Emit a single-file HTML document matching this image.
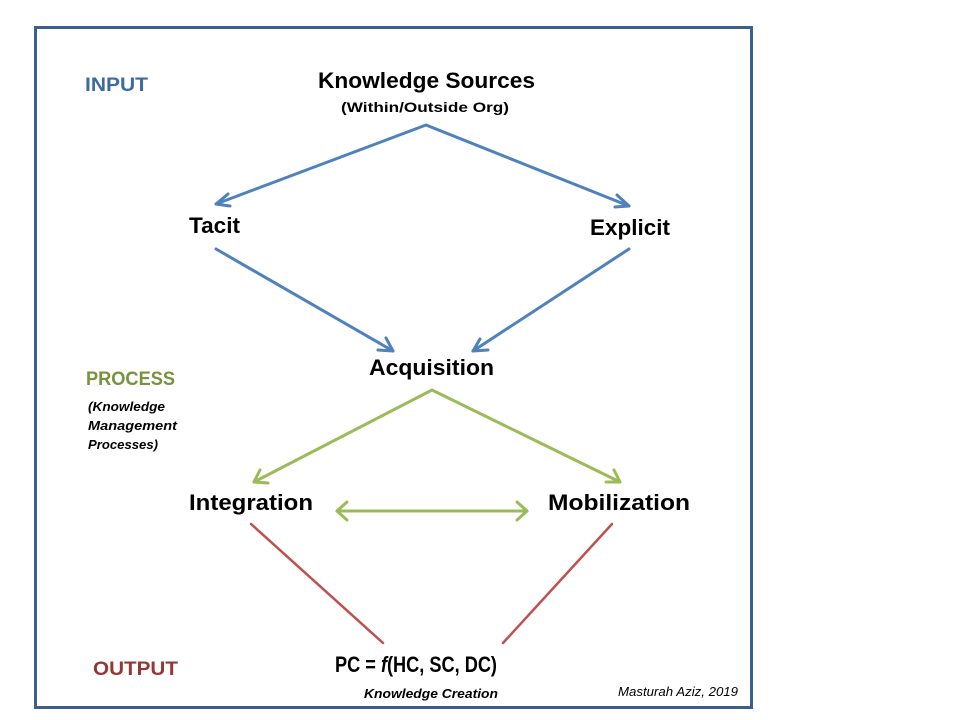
<!DOCTYPE html>
<html><head><meta charset="utf-8"><style>
html,body{margin:0;padding:0;background:#fff;width:960px;height:720px;overflow:hidden}
text{font-family:"Liberation Sans",sans-serif;font-weight:bold}
</style></head><body>
<svg width="960" height="720" xmlns="http://www.w3.org/2000/svg">
<defs>
<marker id="ab" viewBox="0 0 10 10" refX="9" refY="5" markerWidth="5" markerHeight="5" orient="auto-start-reverse" markerUnits="userSpaceOnUse"><path d="M1,1 L9,5 L1,9" fill="none" stroke="#4f81bd" stroke-width="0" /></marker>
</defs>
<rect x="35.5" y="27.5" width="716" height="680" fill="none" stroke="#3d5f8f" stroke-width="3"/>
<g stroke="#4f81bd" stroke-width="3" fill="none" stroke-linecap="round" stroke-linejoin="round">
<polyline points="216,204 426,125 629,206"/>
<polyline points="228,194 216,204 230,206"/>
<polyline points="617,195 629,206 615,207"/>
<line x1="216" y1="249" x2="393" y2="351"/>
<polyline points="378,350 393,351 386,338"/>
<line x1="629" y1="249" x2="473" y2="351"/>
<polyline points="480,339 473,351 488,350"/>
</g>
<g stroke="#9bbb59" stroke-width="3" fill="none" stroke-linecap="round" stroke-linejoin="round">
<polyline points="254,482 432,390 620,482"/>
<polyline points="260,470 254,482 268,483"/>
<polyline points="606,482 620,482 614,470"/>
<line x1="337" y1="511" x2="527" y2="511"/>
<polyline points="347,502 337,511 347,520"/>
<polyline points="517,502 527,511 517,520"/>
</g>
<g stroke="#c0504d" stroke-width="2.5" stroke-linecap="round">
<line x1="251" y1="524" x2="383" y2="643"/>
<line x1="612" y1="524" x2="503" y2="643"/>
</g>
<text x="85" y="91" font-size="19" fill="#3f6aa0" textLength="63" lengthAdjust="spacingAndGlyphs">INPUT</text>
<text x="318" y="88" font-size="22" fill="#000" textLength="217" lengthAdjust="spacingAndGlyphs">Knowledge Sources</text>
<text x="341" y="112" font-size="14" fill="#000" textLength="168" lengthAdjust="spacingAndGlyphs">(Within/Outside Org)</text>
<text x="189" y="233" font-size="22" fill="#000" textLength="51" lengthAdjust="spacingAndGlyphs">Tacit</text>
<text x="590" y="235" font-size="22" fill="#000" textLength="80" lengthAdjust="spacingAndGlyphs">Explicit</text>
<text x="369" y="375" font-size="22" fill="#000" textLength="125" lengthAdjust="spacingAndGlyphs">Acquisition</text>
<text x="86" y="385" font-size="19" fill="#77933c" textLength="89" lengthAdjust="spacingAndGlyphs">PROCESS</text>
<g font-size="13" font-style="italic" fill="#000">
<text x="88" y="411" textLength="77" lengthAdjust="spacingAndGlyphs">(Knowledge</text>
<text x="88" y="430" textLength="89" lengthAdjust="spacingAndGlyphs">Management</text>
<text x="88" y="449" textLength="70" lengthAdjust="spacingAndGlyphs">Processes)</text>
</g>
<text x="189" y="510" font-size="22" fill="#000" textLength="124" lengthAdjust="spacingAndGlyphs">Integration</text>
<text x="548" y="510" font-size="22" fill="#000" textLength="142" lengthAdjust="spacingAndGlyphs">Mobilization</text>
<text x="93" y="675" font-size="19" fill="#953735" textLength="85" lengthAdjust="spacingAndGlyphs">OUTPUT</text>
<text x="335" y="672" font-size="22" fill="#000" textLength="162" lengthAdjust="spacingAndGlyphs">PC = <tspan font-style="italic">f</tspan>(HC, SC, DC)</text>
<text x="364" y="698" font-size="13" font-style="italic" fill="#000" textLength="134" lengthAdjust="spacingAndGlyphs">Knowledge Creation</text>
<text x="618" y="696" font-size="13" font-style="italic" font-weight="normal" fill="#000" style="font-weight:normal" textLength="120" lengthAdjust="spacingAndGlyphs">Masturah Aziz, 2019</text>
</svg>
</body></html>
